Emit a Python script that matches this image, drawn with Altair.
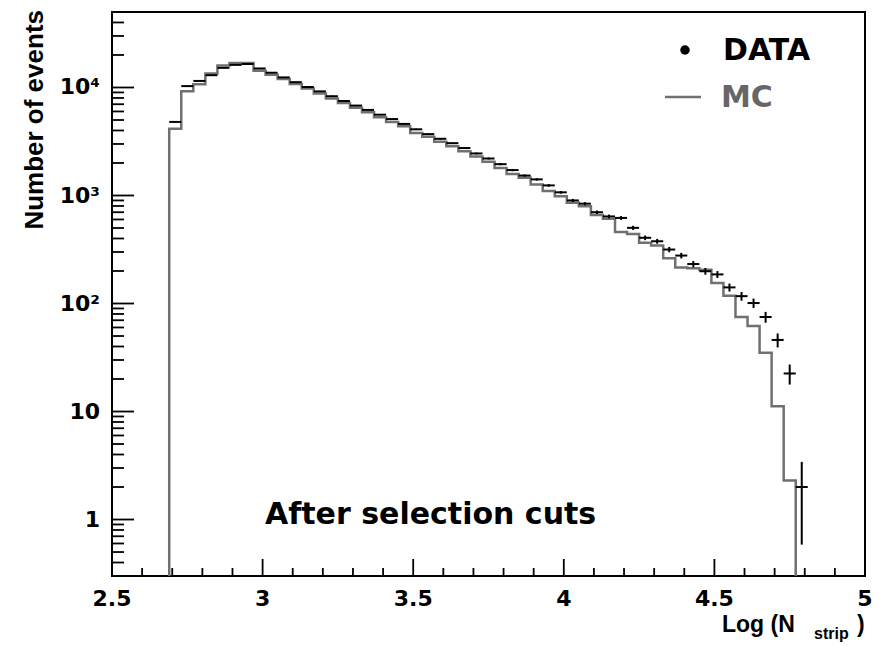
import altair as alt
import pandas as pd
import numpy as np

# ---------------- data ----------------
BIN_LOW = [2.69, 2.73, 2.77, 2.81, 2.85, 2.89, 2.93, 2.97, 3.01, 3.05,
           3.09, 3.13, 3.17, 3.21, 3.25, 3.29, 3.33, 3.37, 3.41, 3.45,
           3.49, 3.53, 3.57, 3.61, 3.65, 3.69, 3.73, 3.77, 3.81, 3.85,
           3.89, 3.93, 3.97, 4.01, 4.05, 4.09, 4.13, 4.17, 4.21, 4.25,
           4.29, 4.33, 4.37, 4.41, 4.45, 4.49, 4.53, 4.57, 4.61, 4.65,
           4.69, 4.73, 4.77]
BIN_WIDTH = 0.04

MC_COUNTS = [4150, 9250, 10700, 13500, 16000, 16900, 16900, 14300, 13100, 12000,
             10800, 9800, 8800, 7900, 7200, 6500, 5900, 5300, 4800, 4380,
             3800, 3500, 3150, 2860, 2570, 2300, 2050, 1800, 1580, 1460,
             1265, 1100, 985, 856, 796, 660, 608, 460, 440, 365,
             345, 262, 215, 212, 205, 155, 118, 75, 62, 35,
             11.2, 2.3]

DATA_COUNTS = [4800, 10300, 11500, 13000, 15200, 16200, 16500, 15000, 13700, 12400,
               11200, 10100, 9200, 8300, 7500, 6800, 6200, 5600, 5100, 4600,
               4100, 3700, 3350, 3050, 2750, 2450, 2200, 1950, 1720, 1530,
               1410, 1240, 1070, 900, 840, 700, 640, 620, 502, 406,
               377, 316, 278, 232, 199, 186, 141, 117, 101, 75,
               46, 22.5, 2.0]

X_MAJOR = [2.5, 3.0, 3.5, 4.0, 4.5, 5.0]
X_LABELS = ["2.5", "3", "3.5", "4", "4.5", "5"]
X_MINOR = [2.6, 2.7, 2.8, 2.9, 3.1, 3.2, 3.3, 3.4, 3.6, 3.7, 3.8, 3.9,
           4.1, 4.2, 4.3, 4.4, 4.6, 4.7, 4.8, 4.9]
Y_MAJOR = [1, 10, 100, 1000, 10000]
Y_LABELS = ["1", "10", "10²", "10³", "10⁴"]
Y_MINOR = [0.4, 0.5, 0.6, 0.7, 0.8, 0.9,
           2, 3, 4, 5, 6, 7, 8, 9,
           20, 30, 40, 50, 60, 70, 80, 90,
           200, 300, 400, 500, 600, 700, 800, 900,
           2000, 3000, 4000, 5000, 6000, 7000, 8000, 9000,
           20000, 30000, 40000, 50000]

# ---------------- layout ----------------
W, H = 753, 564
LEFT, TOP = 112, 12
BOLD_FONT = "DejaVu Sans"
NARROW_FONT = "Liberation Sans"
MC_COLOR = "#707070"

xs = alt.Scale(domain=[2.5, 5.0], nice=False, zero=False)
ys = alt.Scale(type="log", domain=[0.3, 50000], nice=False)

# MC step histogram
n_mc = len(MC_COUNTS)
mc_x = [BIN_LOW[0]] + BIN_LOW[:n_mc] + [BIN_LOW[n_mc]]
mc_y = [0.01] + MC_COUNTS + [0.01]
mc_df = pd.DataFrame({"x": mc_x, "y": mc_y, "i": list(range(len(mc_x)))})

mc_line = alt.Chart(mc_df).mark_line(
    interpolate="step-after", color=MC_COLOR, strokeWidth=2.5, clip=True
).encode(
    x=alt.X("x:Q", scale=xs, axis=None),
    y=alt.Y("y:Q", scale=ys, axis=None),
    order="i:Q",
)

# DATA with error bars
d = np.array(DATA_COUNTS, dtype=float)
lo = np.array(BIN_LOW[:len(d)])
data_df = pd.DataFrame({
    "lo": lo, "hi": lo + BIN_WIDTH, "c": lo + BIN_WIDTH / 2,
    "v": d, "vlo": d - np.sqrt(d), "vhi": d + np.sqrt(d),
})
hbar = alt.Chart(data_df).mark_rule(color="black", strokeWidth=2, clip=True).encode(
    x=alt.X("lo:Q", scale=xs, axis=None), x2="hi:Q",
    y=alt.Y("v:Q", scale=ys, axis=None),
)
vbar = alt.Chart(data_df).mark_rule(color="black", strokeWidth=2, clip=True).encode(
    x=alt.X("c:Q", scale=xs, axis=None),
    y=alt.Y("vlo:Q", scale=ys, axis=None), y2="vhi:Q",
)

# inside ticks (ROOT style)
def xticks(vals, length):
    return alt.Chart(pd.DataFrame({"v": vals})).mark_rule(color="black", strokeWidth=1.8).encode(
        x=alt.X("v:Q", scale=xs, axis=None), y=alt.value(H), y2=alt.value(H - length))

def yticks(vals, length):
    return alt.Chart(pd.DataFrame({"v": vals})).mark_rule(color="black", strokeWidth=1.8).encode(
        y=alt.Y("v:Q", scale=ys, axis=None), x=alt.value(0), x2=alt.value(length))

# tick labels, positioned through the scales
x_lab = alt.Chart(pd.DataFrame({"v": X_MAJOR, "t": X_LABELS})).mark_text(
    font=BOLD_FONT, fontWeight="bold", fontSize=22, color="black",
    align="center", baseline="top"
).encode(x=alt.X("v:Q", scale=xs, axis=None), y=alt.value(H + 13), text="t:N")

y_lab = alt.Chart(pd.DataFrame({"v": Y_MAJOR, "t": Y_LABELS})).mark_text(
    font=BOLD_FONT, fontWeight="bold", fontSize=22, color="black",
    align="right", baseline="middle"
).encode(y=alt.Y("v:Q", scale=ys, axis=None), x=alt.value(-12), text="t:N")


def text(label, x, y, size, font=BOLD_FONT, color="black", align="left",
         baseline="alphabetic", angle=0, weight="bold"):
    return alt.Chart(pd.DataFrame({"t": [label]})).mark_text(
        font=font, fontSize=size, fontWeight=weight, color=color, align=align,
        baseline=baseline, angle=angle
    ).encode(x=alt.value(x), y=alt.value(y), text="t:N")

legend_dot = alt.Chart(pd.DataFrame({"t": ["DATA"]})).mark_point(
    filled=True, color="black", size=90, opacity=1
).encode(x=alt.value(573), y=alt.value(38))
legend_line = alt.Chart(pd.DataFrame({"t": ["MC"]})).mark_rule(
    color=MC_COLOR, strokeWidth=2.5
).encode(x=alt.value(553), x2=alt.value(589), y=alt.value(85))

chart = alt.layer(
    mc_line,
    xticks(X_MAJOR, 17), xticks(X_MINOR, 8),
    yticks(Y_MAJOR, 22), yticks(Y_MINOR, 12),
    hbar, vbar,
    x_lab, y_lab,
    legend_dot, legend_line,
    text("DATA", 611, 48, 30),
    text("MC", 609, 95, 30, color="#666666"),
    text("After selection cuts", 153, 512, 30),
    text("Number of events", -77, -2, 26, font=NARROW_FONT, align="right",
         baseline="middle", angle=270),
    text("Log (N", 610, 620, 23, font=NARROW_FONT),
    text("strip", 702, 627, 16, font=NARROW_FONT),
    text(")", 745, 620, 23, font=NARROW_FONT),
).properties(
    width=W, height=H,
    autosize=alt.AutoSizeParams(type="none"),
    padding={"left": LEFT, "top": TOP, "right": 879 - LEFT - W, "bottom": 646 - TOP - H},
    background="white",
).configure_view(stroke="black", strokeWidth=2, fill="white")

chart.save("out.html", embed_options={"renderer": "svg", "actions": False})
